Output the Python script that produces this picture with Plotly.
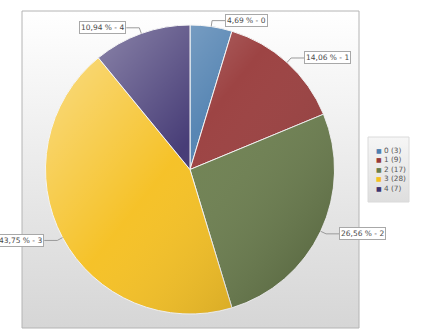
import base64, math
import plotly.graph_objects as go

categories = ["0", "1", "2", "3", "4"]
counts = [3, 9, 17, 28, 7]
colors = ["#4f80b0", "#983a3a", "#6a7d4c", "#f5bf1e", "#3e3370"]

W, H = 427, 332
CX, CY, R = 190, 169.5, 144.5

def px(x): return x / W
def py(y): return 1 - y / H

def b64svg(s):
    return "data:image/svg+xml;base64," + base64.b64encode(s.encode()).decode()

total = sum(counts)
pct = [c / total * 100 for c in counts]

fig = go.Figure(go.Pie(
    labels=categories, values=counts, sort=False, direction="clockwise", rotation=0,
    marker=dict(colors=colors, line=dict(color="#f4f4f4", width=1)),
    textinfo="none", hoverinfo="label+value+percent", showlegend=False,
    domain=dict(x=[px(CX - R), px(CX + R)], y=[py(CY + R), py(CY - R)]),
))

bg_svg = ('<svg xmlns="http://www.w3.org/2000/svg" width="100" height="100" preserveAspectRatio="none">'
          '<defs><linearGradient id="g" x1="0" y1="0" x2="0" y2="1">'
          '<stop offset="0" stop-color="#ffffff"/><stop offset="1" stop-color="#d6d6d6"/></linearGradient></defs>'
          '<rect width="100" height="100" fill="url(#g)"/></svg>')
ov_svg = ('<svg xmlns="http://www.w3.org/2000/svg" width="200" height="200">'
          '<defs><linearGradient id="o" x1="0" y1="0.1" x2="1" y2="0.9">'
          '<stop offset="0" stop-color="#ffffff" stop-opacity="0.45"/>'
          '<stop offset="0.45" stop-color="#ffffff" stop-opacity="0.05"/>'
          '<stop offset="1" stop-color="#000000" stop-opacity="0.22"/></linearGradient></defs>'
          '<circle cx="100" cy="100" r="100" fill="url(#o)"/></svg>')
lg_svg = ('<svg xmlns="http://www.w3.org/2000/svg" width="100" height="100" preserveAspectRatio="none">'
          '<defs><linearGradient id="l" x1="0" y1="0" x2="0" y2="1">'
          '<stop offset="0" stop-color="#f6f6f6"/><stop offset="1" stop-color="#dedede"/></linearGradient></defs>'
          '<rect width="100" height="100" fill="url(#l)"/></svg>')

fig.add_layout_image(source=b64svg(bg_svg), xref="paper", yref="paper", x=px(22), y=py(11),
                     sizex=px(359) - px(22), sizey=(328 - 11) / H, sizing="stretch", layer="below")
fig.add_layout_image(source=b64svg(ov_svg), xref="paper", yref="paper", x=px(CX - R), y=py(CY - R),
                     sizex=2 * R / W, sizey=2 * R / H, sizing="stretch", layer="above")
fig.add_layout_image(source=b64svg(lg_svg), xref="paper", yref="paper", x=px(368), y=py(137),
                     sizex=41 / W, sizey=65 / H, sizing="stretch", layer="below")

shapes = [dict(type="rect", xref="paper", yref="paper", x0=px(22), x1=px(359), y0=py(328), y1=py(11),
               line=dict(color="#b4b4b4", width=1), fillcolor="rgba(0,0,0,0)", layer="below"),
          dict(type="rect", xref="paper", yref="paper", x0=px(368), x1=px(409), y0=py(202), y1=py(137),
               line=dict(color="#dadada", width=1), fillcolor="rgba(0,0,0,0)", layer="below")]
annotations = []
cum = 0
for cat, c, p in zip(categories, counts, pct):
    mid = (cum + c / 2) / total * 2 * math.pi
    cum += c
    s, co = math.sin(mid), math.cos(mid)
    x0, y0 = CX + R * s, CY - R * co
    x1, y1 = CX + (R + 6) * s, CY - (R + 6) * co
    side = 1 if s >= 0 else -1
    x2 = x1 + side * 13
    shapes.append(dict(type="path", xref="paper", yref="paper",
                       path=f"M {px(x0)},{py(y0)} L {px(x1)},{py(y1)} L {px(x2)},{py(y1)}",
                       line=dict(color="#9a9a9a", width=1)))
    txt = f"{p:.2f}".replace(".", ",") + f" % - {cat}"
    annotations.append(dict(xref="paper", yref="paper", x=px(x2), y=py(y1), text=txt, showarrow=False,
                            xanchor="left" if side > 0 else "right", yanchor="middle",
                            bgcolor="#ffffff", bordercolor="#a8a8a8", borderwidth=1, borderpad=1,
                            font=dict(family="DejaVu Sans", size=7.5, color="#4a4a4a")))

leg_lines = [f'<span style="color:{col};font-size:6px">■</span> {cat} ({c})'
             for cat, c, col in zip(categories, counts, colors)]
annotations.append(dict(xref="paper", yref="paper", x=px(374), y=py(169.5), text="<br>".join(leg_lines),
                        showarrow=False, xanchor="left", yanchor="middle", align="left",
                        font=dict(family="DejaVu Sans", size=7.3, color="#555555")))

fig.update_layout(width=W, height=H, margin=dict(l=0, r=0, t=0, b=0),
                  paper_bgcolor="#ffffff", plot_bgcolor="#ffffff",
                  shapes=shapes, annotations=annotations)
fig.write_html("out.html")
